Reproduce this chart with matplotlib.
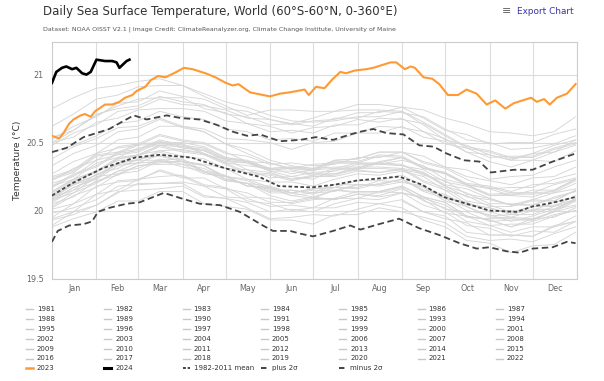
import matplotlib
matplotlib.use("Agg")
import matplotlib.pyplot as plt
from matplotlib.lines import Line2D

# ---------------------------------------------------------------------------
# datos (dia del año 0 = 1 ene, eje de año bisiesto)
month_names = ["Jan", "Feb", "Mar", "Apr", "May", "Jun",
               "Jul", "Aug", "Sep", "Oct", "Nov", "Dec"]
month_starts = [0, 31, 60, 91, 121, 152, 182, 213, 244, 274, 305, 335, 366]

y_ticks = [19.5, 20, 20.5, 21]
y_tick_labels = ["19.5", "20", "20.5", "21"]

# años grises: un valor cada ~15 dias
gray_days = [0, 15, 31, 46, 60, 75, 91, 106, 121, 136, 152, 167, 182,
             197, 213, 228, 244, 259, 274, 289, 305, 320, 335, 350, 365]

y1981 = [20.07, 19.99, 19.96, 19.84, 19.82, 19.82, 19.81, 19.89, 19.92]  # empieza en septiembre
y1982 = [19.98, 20.02, 20.08, 20.18, 20.19, 20.20, 20.20, 20.11, 20.09, 20.06, 19.99, 20.01, 19.99, 20.05, 20.09, 20.08, 20.13, 20.09, 20.04, 19.95, 19.94, 19.94, 19.93, 20.00, 20.08]
y1983 = [20.10, 20.19, 20.24, 20.35, 20.37, 20.37, 20.38, 20.29, 20.22, 20.20, 20.11, 20.07, 20.10, 20.08, 20.12, 20.10, 20.13, 20.04, 19.99, 19.89, 19.87, 19.81, 19.85, 19.84, 19.92]
y1984 = [19.93, 19.97, 20.04, 20.14, 20.15, 20.16, 20.18, 20.10, 20.09, 20.02, 19.94, 19.95, 19.97, 19.96, 20.01, 20.05, 20.02, 19.93, 19.88, 19.78, 19.76, 19.69, 19.74, 19.75, 19.84]
y1985 = [19.88, 19.94, 19.99, 20.07, 20.07, 20.14, 20.14, 20.05, 20.03, 20.01, 19.93, 19.93, 19.90, 19.97, 19.97, 20.02, 19.99, 19.95, 19.91, 19.81, 19.78, 19.79, 19.77, 19.83, 19.88]
y1986 = [19.89, 19.99, 20.04, 20.13, 20.20, 20.20, 20.21, 20.18, 20.10, 20.09, 20.03, 20.04, 20.02, 20.09, 20.09, 20.14, 20.13, 20.10, 20.01, 19.99, 19.92, 19.93, 19.93, 19.99, 20.03]
y1987 = [20.07, 20.17, 20.24, 20.35, 20.37, 20.44, 20.40, 20.38, 20.31, 20.30, 20.24, 20.25, 20.23, 20.30, 20.30, 20.35, 20.34, 20.26, 20.22, 20.12, 20.09, 20.04, 20.08, 20.07, 20.15]
y1988 = [20.14, 20.23, 20.29, 20.37, 20.37, 20.43, 20.37, 20.33, 20.25, 20.18, 20.17, 20.11, 20.09, 20.15, 20.13, 20.13, 20.17, 20.07, 20.02, 19.92, 19.89, 19.84, 19.88, 19.88, 19.96]
y1989 = [19.94, 19.99, 20.12, 20.15, 20.23, 20.25, 20.26, 20.19, 20.17, 20.10, 20.09, 20.05, 20.08, 20.09, 20.14, 20.14, 20.18, 20.10, 20.06, 19.96, 19.93, 19.88, 19.94, 19.95, 20.02]
y1990 = [20.03, 20.13, 20.20, 20.29, 20.31, 20.38, 20.34, 20.27, 20.25, 20.18, 20.17, 20.13, 20.16, 20.17, 20.17, 20.22, 20.21, 20.18, 20.09, 20.06, 19.99, 19.95, 20.00, 20.01, 20.08]
y1991 = [20.08, 20.17, 20.23, 20.33, 20.35, 20.36, 20.36, 20.33, 20.23, 20.20, 20.13, 20.13, 20.10, 20.15, 20.14, 20.14, 20.18, 20.10, 20.06, 19.96, 19.93, 19.88, 19.92, 19.97, 20.00]
y1992 = [20.01, 20.05, 20.18, 20.21, 20.22, 20.30, 20.25, 20.18, 20.16, 20.07, 20.05, 20.00, 20.02, 20.02, 20.06, 20.05, 20.08, 19.99, 19.94, 19.91, 19.82, 19.82, 19.81, 19.88, 19.92]
y1993 = [19.95, 20.05, 20.12, 20.22, 20.23, 20.29, 20.24, 20.24, 20.16, 20.13, 20.06, 20.06, 20.09, 20.08, 20.12, 20.11, 20.16, 20.08, 19.98, 19.96, 19.89, 19.90, 19.90, 19.96, 20.00]
y1994 = [20.02, 20.11, 20.17, 20.27, 20.29, 20.37, 20.32, 20.29, 20.26, 20.18, 20.16, 20.11, 20.13, 20.19, 20.19, 20.19, 20.23, 20.15, 20.12, 20.04, 20.02, 19.98, 20.03, 20.04, 20.08]
y1995 = [20.11, 20.20, 20.26, 20.34, 20.35, 20.41, 20.36, 20.33, 20.25, 20.22, 20.15, 20.15, 20.12, 20.17, 20.16, 20.20, 20.23, 20.14, 20.09, 20.00, 19.97, 19.92, 19.96, 20.01, 20.04]
y1996 = [20.05, 20.10, 20.22, 20.26, 20.33, 20.35, 20.36, 20.29, 20.22, 20.20, 20.14, 20.15, 20.13, 20.14, 20.19, 20.19, 20.23, 20.15, 20.11, 20.03, 19.96, 19.97, 19.97, 20.03, 20.07]
y1997 = [20.09, 20.19, 20.26, 20.35, 20.41, 20.44, 20.45, 20.42, 20.36, 20.35, 20.30, 20.31, 20.30, 20.37, 20.38, 20.43, 20.43, 20.40, 20.32, 20.30, 20.23, 20.25, 20.26, 20.32, 20.37]
y1998 = [20.38, 20.47, 20.53, 20.61, 20.62, 20.68, 20.62, 20.58, 20.49, 20.42, 20.35, 20.30, 20.27, 20.27, 20.30, 20.28, 20.30, 20.21, 20.15, 20.05, 20.02, 19.97, 20.01, 20.01, 20.09]
y1999 = [20.08, 20.13, 20.25, 20.27, 20.33, 20.34, 20.34, 20.31, 20.23, 20.20, 20.18, 20.13, 20.15, 20.15, 20.19, 20.18, 20.21, 20.17, 20.07, 20.03, 19.95, 19.95, 19.94, 19.99, 20.07]
y2000 = [20.06, 20.15, 20.21, 20.29, 20.35, 20.36, 20.36, 20.28, 20.25, 20.23, 20.17, 20.13, 20.16, 20.17, 20.22, 20.22, 20.26, 20.18, 20.09, 20.06, 19.99, 20.00, 20.00, 20.06, 20.10]
y2001 = [20.12, 20.21, 20.29, 20.38, 20.41, 20.48, 20.44, 20.42, 20.35, 20.28, 20.27, 20.23, 20.26, 20.27, 20.32, 20.32, 20.31, 20.28, 20.19, 20.16, 20.09, 20.04, 20.08, 20.13, 20.16]
y2002 = [20.17, 20.26, 20.32, 20.42, 20.44, 20.51, 20.47, 20.45, 20.38, 20.36, 20.30, 20.31, 20.29, 20.35, 20.35, 20.35, 20.39, 20.31, 20.28, 20.19, 20.16, 20.11, 20.15, 20.15, 20.23]
y2003 = [20.24, 20.29, 20.41, 20.43, 20.49, 20.50, 20.50, 20.47, 20.39, 20.36, 20.29, 20.29, 20.26, 20.31, 20.35, 20.34, 20.37, 20.33, 20.23, 20.19, 20.11, 20.11, 20.10, 20.15, 20.23]
y2004 = [20.20, 20.25, 20.37, 20.41, 20.43, 20.50, 20.46, 20.44, 20.37, 20.35, 20.29, 20.25, 20.28, 20.29, 20.34, 20.34, 20.33, 20.30, 20.21, 20.18, 20.11, 20.12, 20.12, 20.13, 20.20]
y2005 = [20.22, 20.31, 20.37, 20.47, 20.49, 20.56, 20.52, 20.50, 20.43, 20.36, 20.35, 20.31, 20.34, 20.35, 20.35, 20.40, 20.39, 20.31, 20.27, 20.19, 20.12, 20.13, 20.13, 20.14, 20.22]
y2006 = [20.18, 20.23, 20.35, 20.39, 20.46, 20.48, 20.49, 20.42, 20.35, 20.33, 20.31, 20.27, 20.30, 20.31, 20.31, 20.36, 20.39, 20.31, 20.27, 20.19, 20.17, 20.13, 20.13, 20.19, 20.23]
y2007 = [20.23, 20.28, 20.40, 20.42, 20.48, 20.49, 20.49, 20.41, 20.38, 20.30, 20.28, 20.23, 20.25, 20.25, 20.29, 20.28, 20.31, 20.22, 20.17, 20.07, 20.04, 19.99, 20.03, 20.03, 20.11]
y2008 = [20.10, 20.15, 20.27, 20.31, 20.38, 20.40, 20.36, 20.34, 20.31, 20.23, 20.21, 20.21, 20.18, 20.23, 20.27, 20.26, 20.29, 20.25, 20.15, 20.11, 20.03, 20.03, 20.07, 20.07, 20.15]
y2009 = [20.14, 20.23, 20.29, 20.39, 20.41, 20.48, 20.47, 20.44, 20.38, 20.36, 20.31, 20.32, 20.31, 20.37, 20.38, 20.43, 20.43, 20.36, 20.32, 20.25, 20.22, 20.19, 20.24, 20.25, 20.32]
y2010 = [20.33, 20.42, 20.48, 20.58, 20.60, 20.67, 20.61, 20.58, 20.49, 20.45, 20.37, 20.33, 20.31, 20.32, 20.32, 20.35, 20.33, 20.28, 20.18, 20.13, 20.05, 20.05, 20.04, 20.09, 20.14]
y2011 = [20.13, 20.22, 20.28, 20.38, 20.40, 20.47, 20.43, 20.41, 20.34, 20.27, 20.26, 20.22, 20.25, 20.26, 20.31, 20.31, 20.30, 20.27, 20.18, 20.10, 20.08, 20.04, 20.04, 20.10, 20.14]
y2012 = [20.18, 20.27, 20.33, 20.43, 20.45, 20.52, 20.48, 20.46, 20.39, 20.37, 20.31, 20.32, 20.30, 20.36, 20.36, 20.41, 20.40, 20.32, 20.28, 20.20, 20.18, 20.14, 20.19, 20.20, 20.24]
y2013 = [20.25, 20.30, 20.42, 20.46, 20.48, 20.55, 20.51, 20.49, 20.42, 20.40, 20.34, 20.35, 20.33, 20.34, 20.39, 20.39, 20.43, 20.35, 20.31, 20.23, 20.16, 20.17, 20.17, 20.23, 20.27]
y2014 = [20.27, 20.36, 20.42, 20.52, 20.54, 20.62, 20.62, 20.60, 20.53, 20.52, 20.50, 20.45, 20.50, 20.51, 20.57, 20.57, 20.62, 20.54, 20.51, 20.43, 20.41, 20.37, 20.37, 20.43, 20.48]
y2015 = [20.48, 20.57, 20.63, 20.73, 20.75, 20.82, 20.78, 20.77, 20.74, 20.68, 20.67, 20.64, 20.68, 20.73, 20.78, 20.78, 20.76, 20.74, 20.68, 20.64, 20.58, 20.57, 20.55, 20.58, 20.69]
y2016 = [20.75, 20.83, 20.90, 20.92, 20.95, 20.97, 20.92, 20.86, 20.80, 20.76, 20.70, 20.66, 20.65, 20.66, 20.69, 20.69, 20.73, 20.65, 20.56, 20.47, 20.44, 20.39, 20.39, 20.45, 20.49]
y2017 = [20.50, 20.59, 20.70, 20.77, 20.82, 20.83, 20.83, 20.75, 20.72, 20.64, 20.62, 20.57, 20.61, 20.62, 20.67, 20.65, 20.68, 20.58, 20.53, 20.43, 20.36, 20.32, 20.37, 20.36, 20.44]
y2018 = [20.43, 20.48, 20.55, 20.64, 20.66, 20.73, 20.69, 20.67, 20.60, 20.58, 20.52, 20.53, 20.51, 20.57, 20.57, 20.62, 20.61, 20.58, 20.49, 20.46, 20.39, 20.40, 20.40, 20.46, 20.50]
y2019 = [20.52, 20.62, 20.69, 20.79, 20.80, 20.88, 20.84, 20.82, 20.75, 20.73, 20.67, 20.63, 20.66, 20.67, 20.72, 20.72, 20.76, 20.68, 20.59, 20.56, 20.49, 20.50, 20.50, 20.56, 20.60]
y2020 = [20.62, 20.71, 20.82, 20.85, 20.91, 20.92, 20.92, 20.84, 20.77, 20.70, 20.74, 20.74, 20.73, 20.73, 20.74, 20.74, 20.73, 20.63, 20.52, 20.48, 20.41, 20.37, 20.42, 20.43, 20.52]
y2021 = [20.50, 20.54, 20.65, 20.68, 20.74, 20.75, 20.75, 20.73, 20.66, 20.64, 20.58, 20.59, 20.57, 20.63, 20.63, 20.68, 20.67, 20.64, 20.55, 20.46, 20.43, 20.38, 20.42, 20.48, 20.52]
y2022 = [20.54, 20.59, 20.71, 20.75, 20.77, 20.84, 20.80, 20.78, 20.71, 20.69, 20.63, 20.64, 20.62, 20.68, 20.68, 20.73, 20.72, 20.69, 20.60, 20.52, 20.50, 20.45, 20.46, 20.49, 20.55]

# 2023 (naranja)
y2023_days = [0, 5, 8, 12, 15, 20, 23, 27, 30, 37, 42, 47, 51, 56, 59, 65, 69, 74, 79, 85,
              92, 98, 107, 114, 121, 126, 130, 138, 147, 152, 159, 166, 176, 179, 184, 190,
              195, 201, 205, 211, 219, 224, 236, 240, 246, 250, 253, 259, 265, 270, 276,
              283, 289, 296, 303, 309, 316, 322, 328, 334, 338, 343, 347, 352, 359, 365]
y2023 = [20.55, 20.53, 20.57, 20.64, 20.67, 20.70, 20.71, 20.69, 20.73, 20.78, 20.78, 20.80,
         20.83, 20.85, 20.88, 20.91, 20.96, 20.99, 20.98, 21.01, 21.05, 21.04, 21.01, 20.98,
         20.94, 20.92, 20.93, 20.87, 20.85, 20.84, 20.86, 20.87, 20.89, 20.85, 20.91, 20.90,
         20.96, 21.02, 21.01, 21.03, 21.04, 21.05, 21.09, 21.09, 21.04, 21.06, 21.05, 20.98,
         20.97, 20.93, 20.85, 20.85, 20.89, 20.86, 20.78, 20.81, 20.75, 20.79, 20.81, 20.83,
         20.80, 20.82, 20.78, 20.83, 20.86, 20.93]

# 2024 (negro)
y2024_days = [0, 3, 7, 10, 14, 17, 21, 24, 27, 31, 37, 42, 45, 47, 50, 52, 54]
y2024 = [20.94, 21.02, 21.05, 21.06, 21.04, 21.05, 21.01, 21.00, 21.02, 21.11, 21.10,
         21.10, 21.09, 21.05, 21.08, 21.10, 21.11]

# media 1982-2011 y +-2 sigma
mean_days = [0, 14, 35, 58, 75, 97, 121, 144, 158, 181, 197, 212, 242, 258, 273, 289,
             305, 324, 335, 350, 365]
mean_vals = [20.11, 20.20, 20.31, 20.39, 20.41, 20.39, 20.31, 20.25, 20.18, 20.17, 20.19,
             20.22, 20.25, 20.19, 20.10, 20.05, 20.00, 19.99, 20.03, 20.06, 20.10]

plus_days = [0, 10, 22, 31, 40, 50, 57, 66, 80, 90, 103, 115, 126, 136, 145, 159, 173,
             184, 196, 208, 215, 224, 233, 245, 256, 266, 275, 287, 298, 306, 322, 335,
             349, 365]
plus_vals = [20.43, 20.46, 20.54, 20.57, 20.60, 20.66, 20.70, 20.67, 20.70, 20.68, 20.67,
             20.63, 20.58, 20.55, 20.56, 20.51, 20.52, 20.54, 20.52, 20.56, 20.58, 20.60,
             20.57, 20.56, 20.48, 20.47, 20.42, 20.37, 20.36, 20.28, 20.30, 20.30, 20.36,
             20.42]

minus_days = [0, 4, 12, 22, 28, 32, 40, 52, 61, 78, 90, 103, 117, 131, 147, 154, 166,
              173, 182, 196, 208, 215, 228, 242, 256, 270, 284, 296, 305, 317, 326, 335,
              349, 359, 365]
minus_vals = [19.77, 19.85, 19.89, 19.90, 19.92, 19.99, 20.02, 20.05, 20.06, 20.13, 20.09,
              20.05, 20.04, 19.99, 19.89, 19.85, 19.85, 19.83, 19.81, 19.85, 19.89, 19.86,
              19.90, 19.94, 19.87, 19.82, 19.76, 19.72, 19.73, 19.70, 19.69, 19.72, 19.73,
              19.77, 19.76]

gray_years = [("1981", y1981), ("1982", y1982), ("1983", y1983), ("1984", y1984),
              ("1985", y1985), ("1986", y1986), ("1987", y1987), ("1988", y1988),
              ("1989", y1989), ("1990", y1990), ("1991", y1991), ("1992", y1992),
              ("1993", y1993), ("1994", y1994), ("1995", y1995), ("1996", y1996),
              ("1997", y1997), ("1998", y1998), ("1999", y1999), ("2000", y2000),
              ("2001", y2001), ("2002", y2002), ("2003", y2003), ("2004", y2004),
              ("2005", y2005), ("2006", y2006), ("2007", y2007), ("2008", y2008),
              ("2009", y2009), ("2010", y2010), ("2011", y2011), ("2012", y2012),
              ("2013", y2013), ("2014", y2014), ("2015", y2015), ("2016", y2016),
              ("2017", y2017), ("2018", y2018), ("2019", y2019), ("2020", y2020),
              ("2021", y2021), ("2022", y2022)]

# ---------------------------------------------------------------------------
W, H = 604, 381
plt.rcParams['font.family'] = ['DejaVu Sans']

fig = plt.figure(figsize=(W / 100, H / 100), dpi=100)
ax = fig.add_axes([52 / W, 1 - 278.5 / H, 525 / W, 236.5 / H])

GRAY = '#d6d6d6'
DARK = '#444444'
ORANGE = '#ff9933'
mean_ls = (0, (2.0, 1.3))
sigma_ls = (0, (3.6, 2.0))

for name, vals in gray_years:
    ax.plot(gray_days[-len(vals):], vals, color=GRAY, lw=0.65, zorder=2)

ax.plot(plus_days, plus_vals, color=DARK, lw=1.3, ls=sigma_ls, zorder=3)
ax.plot(minus_days, minus_vals, color=DARK, lw=1.3, ls=sigma_ls, zorder=3)
ax.plot(mean_days, mean_vals, color=DARK, lw=1.3, ls=mean_ls, zorder=3)
ax.plot(y2023_days, y2023, color=ORANGE, lw=1.5, zorder=4)
ax.plot(y2024_days, y2024, color='black', lw=1.9, zorder=5)

ax.set_xlim(0, 366)
ax.set_ylim(19.5, 21.24)

ax.set_xticks(month_starts)
ax.set_xticklabels([])
centers = [(a + b) / 2 for a, b in zip(month_starts[:-1], month_starts[1:])]
ax.set_xticks(centers, minor=True)
ax.set_xticklabels(month_names, minor=True)
ax.set_yticks(y_ticks)
ax.set_yticklabels(y_tick_labels)
ax.tick_params(axis='both', which='both', length=0, labelsize=5.8, labelcolor='#666666')
ax.tick_params(axis='x', which='minor', pad=4)
ax.tick_params(axis='y', pad=6)

ax.grid(True, which='major', color='#dcdcdc', lw=0.8, zorder=0)
for sp in ax.spines.values():
    sp.set_color('#cccccc')
    sp.set_linewidth(0.8)

ax.set_ylabel("Temperature (°C)", fontsize=6.6, color='#333333', labelpad=3)

# titulo y textos
fig.text(43 / W, 1 - 11 / H, "Daily Sea Surface Temperature, World (60°S-60°N, 0-360°E)",
         fontsize=8.45, color='#333333', va='center', ha='left')
fig.text(43 / W, 1 - 29 / H,
         "Dataset: NOAA OISST V2.1 | Image Credit: ClimateReanalyzer.org, Climate Change Institute, University of Maine",
         fontsize=4.5, color='#555555', va='center', ha='left')
fig.text(502 / W, 1 - 11 / H, "≡", fontsize=8, color='#666666', va='center', ha='left')
fig.text(517 / W, 1 - 11 / H, "Export Chart", fontsize=6.4, color='#3535a8', va='center', ha='left')

# leyenda (7 columnas, por filas)
entries = [(name, dict(color='#c8c8c8', lw=1.0)) for name, _ in gray_years]
entries.append(("2023", dict(color=ORANGE, lw=1.8)))
entries.append(("2024", dict(color='black', lw=2.2)))
entries.append(("1982-2011 mean", dict(color='#333333', lw=1.3, ls=(0, (1.6, 1.0)))))
entries.append(("plus 2σ", dict(color='#333333', lw=1.3, ls=(0, (3.0, 1.5)))))
entries.append(("minus 2σ", dict(color='#333333', lw=1.3, ls=(0, (3.0, 1.5)))))

for i, (label, style) in enumerate(entries):
    row, col = divmod(i, 7)
    x0 = 26 + col * 78.3
    yy = 1 - (309 + row * 9.9) / H
    fig.add_artist(Line2D([x0 / W, (x0 + 7) / W], [yy, yy], transform=fig.transFigure, **style))
    fig.text((x0 + 11) / W, yy, label, fontsize=5, color='#333333', va='center', ha='left')

fig.savefig("out.png", dpi=100)
